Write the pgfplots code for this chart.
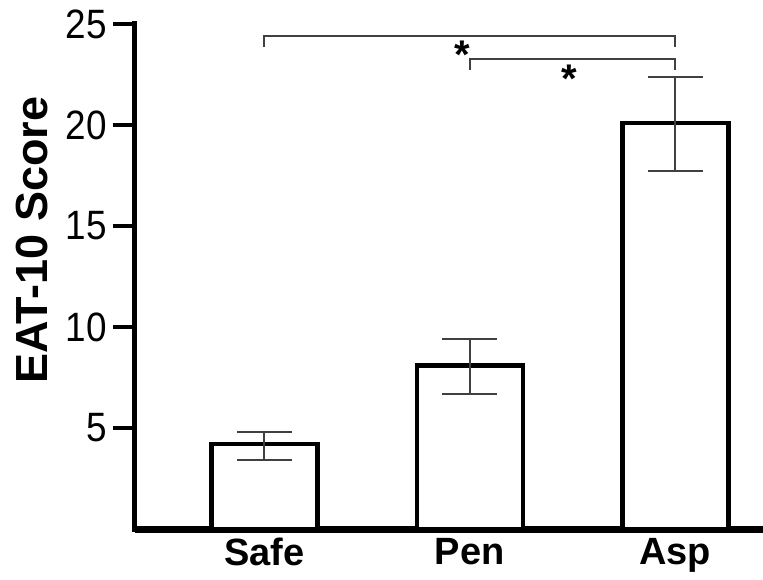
\documentclass[border=0pt]{standalone}
\usepackage{fontspec}
\setmainfont{Liberation Sans}
\newfontfamily\numfont{Liberation Sans}[FakeStretch=0.9]
\usepackage{pgfplots}
\usepackage{pgfplotstable}
\pgfplotsset{compat=1.18}
\pgfplotstableread{
x  y     ep   em
0  4.2   0.6  0.8
1  8.1   1.3  1.4
2  20.1  2.3  2.4
}\eatdata
\begin{document}
\begin{tikzpicture}
\useasboundingbox (-135pt,-50pt) rectangle (628pt,529pt);
\begin{axis}[
  scale only axis,
  width=628pt, height=505pt,
  xmin=-0.629, xmax=2.427,
  ymin=0, ymax=25,
  clip=false,
  axis lines=left,
  axis line style={-},
  x axis line style={line width=7pt},
  y axis line style={line width=5pt, line cap=rect},
  xtick={0,1,2}, xticklabels={Safe,Pen,Asp},
  xtick style={draw=none},
  xticklabel style={font=\fontsize{38}{38}\selectfont\bfseries, inner sep=0pt, anchor=north, yshift=13pt},
  ytick={5,10,15,20,25}, yticklabels={5,10,15,20,25},
  tick align=outside, major tick length=22pt,
  tick style={line width=4pt, black},
  ytick style={line width=4pt, black},
  yticklabel style={font=\fontsize{41}{41}\selectfont\numfont, inner sep=0pt, anchor=east, xshift=-6pt},
  ylabel={\textbf{EAT-10 Score}},
  ylabel style={font=\fontsize{45}{45}\selectfont, at={(axis description cs:-0.164,0.572)}, anchor=center},
]
\addplot[ybar, bar width=106pt, draw=black, line width=4.5pt, fill=white,
  error bars/.cd, y dir=both, y explicit, error mark=|,
  error bar style={line width=2pt, black!75},
  error mark options={line width=2pt, black!75, mark size=27.5pt}]
  table[x=x, y=y, y error plus=ep, y error minus=em] {\eatdata};
\draw[black!75, line width=2pt] (axis cs:0,23.84) -- (axis cs:0,24.42) -- (axis cs:2,24.42) -- (axis cs:2,23.84);
\draw[black!75, line width=2pt] (axis cs:1,22.7) -- (axis cs:1,23.25) -- (axis cs:2,23.25) -- (axis cs:2,22.7);
\node[anchor=north, inner sep=0pt, font=\fontsize{40}{40}\selectfont\bfseries] at (axis cs:0.965,24.17) {*};
\node[anchor=north, inner sep=0pt, font=\fontsize{40}{40}\selectfont\bfseries] at (axis cs:1.484,22.97) {*};
\end{axis}
\end{tikzpicture}
\end{document}
